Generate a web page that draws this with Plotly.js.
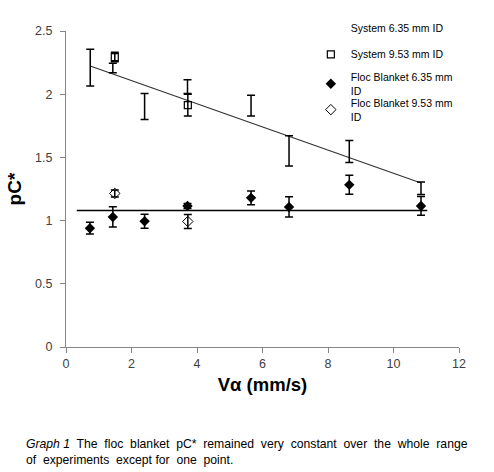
<!DOCTYPE html>
<html>
<head>
<meta charset="utf-8">
<script src="https://cdn.plot.ly/plotly-3.0.1.min.js"></script>
<style>html,body{margin:0;padding:0;background:#fff;}#chart{width:494px;height:472px;}</style>
</head>
<body>
<div id="chart"></div>
<script>
// System 6.35 mm ID (error bars only, no marker)
var sys635X = [0.74, 1.43, 2.40, 3.71, 5.65, 6.81, 8.65, 10.84];
var sys635Y = [2.21, 2.207, 1.903, 2.06, 1.909, 1.551, 1.547, 1.256];
var sys635Err = [0.145, 0.037, 0.103, 0.055, 0.082, 0.12, 0.087, 0.05];

// System 9.53 mm ID
var sys953X = [1.49, 3.72];
var sys953Y = [2.294, 1.913];
var sys953Err = [0.037, 0.086];

// Floc Blanket 6.35 mm ID
var floc635X = [0.73, 1.43, 2.40, 3.71, 5.65, 6.81, 8.65, 10.84];
var floc635Y = [0.94, 1.029, 0.995, 1.116, 1.18, 1.108, 1.283, 1.116];
var floc635Err = [0.046, 0.08, 0.055, 0.02, 0.054, 0.08, 0.075, 0.074];

// Floc Blanket 9.53 mm ID
var floc953X = [1.49, 3.72];
var floc953Y = [1.215, 0.993];
var floc953Err = [0.028, 0.055];

// Horizontal floc blanket reference line
var flocLineX = [0.33, 11.03];
var flocLineY = [1.08, 1.08];

var xTicks = [0, 2, 4, 6, 8, 10, 12];
var yTicks = [0, 0.5, 1, 1.5, 2, 2.5];

// Linear trendline through System 6.35 mm ID data
function linfit(xs, ys) {
  var n = xs.length, mx = 0, my = 0;
  for (var i = 0; i < n; i++) { mx += xs[i]; my += ys[i]; }
  mx /= n; my /= n;
  var sxy = 0, sxx = 0;
  for (var j = 0; j < n; j++) { sxy += (xs[j]-mx)*(ys[j]-my); sxx += (xs[j]-mx)*(xs[j]-mx); }
  var b = sxy / sxx;
  return {a: my - b*mx, b: b};
}
var fit = linfit(sys635X, sys635Y);
var trendX = [Math.min.apply(null, sys635X), Math.max.apply(null, sys635X)];
var trendY = trendX.map(function (x) { return fit.a + fit.b * x; });

function err(arr) {
  return {type: 'data', array: arr, visible: true, color: '#000', thickness: 1.5, width: 4};
}

var FONT = 'Liberation Sans, Arial, sans-serif';

var traces = [
  {x: trendX, y: trendY, mode: 'lines', line: {color: '#333', width: 1.2}, showlegend: false, hoverinfo: 'skip'},
  {x: flocLineX, y: flocLineY, mode: 'lines', line: {color: '#000', width: 1.5}, showlegend: false, hoverinfo: 'skip'},
  {x: sys635X, y: sys635Y, mode: 'markers', name: 'System 6.35 mm ID', legend: 'legend',
   marker: {size: 7, color: 'rgba(0,0,0,0)', line: {width: 0}}, error_y: err(sys635Err)},
  {x: sys953X, y: sys953Y, mode: 'markers', name: 'System 9.53 mm ID', legend: 'legend2',
   marker: {symbol: 'square-open', size: 7, color: '#000', line: {width: 1.2}}, error_y: err(sys953Err)},
  {x: floc635X, y: floc635Y, mode: 'markers', name: 'Floc Blanket 6.35 mm<br>ID', legend: 'legend3',
   marker: {symbol: 'diamond', size: 8, color: '#000'}, error_y: err(floc635Err)},
  {x: floc953X, y: floc953Y, mode: 'markers', name: 'Floc Blanket 9.53 mm<br>ID', legend: 'legend4',
   marker: {symbol: 'diamond-open', size: 8, color: '#000', line: {width: 1}}, error_y: err(floc953Err)}
];

var axisCommon = {
  showgrid: false, zeroline: false, showline: true, linecolor: '#868686', linewidth: 1,
  ticks: 'outside', ticklen: 5, tickcolor: '#868686',
  tickfont: {family: FONT, size: 12.5, color: '#404040'}
};

function leg(y) {
  return {x: 0.623, y: y, xanchor: 'left', yanchor: 'top', bgcolor: 'rgba(0,0,0,0)',
          font: {size: 10.5, color: '#000', family: FONT}, itemwidth: 30};
}

var layout = {
  width: 494, height: 472,
  margin: {l: 66, r: 35, t: 31, b: 125},
  paper_bgcolor: '#fff', plot_bgcolor: '#fff',
  font: {family: FONT},
  xaxis: Object.assign({}, axisCommon, {
    range: [0, 12], tickvals: xTicks, ticktext: xTicks.map(String),
    title: {text: 'Vα (mm/s)', font: {size: 18.5, color: '#000', family: FONT, weight: 'bold'}, standoff: 8}
  }),
  yaxis: Object.assign({}, axisCommon, {
    range: [0, 2.5], tickvals: yTicks, ticktext: yTicks.map(String), ticklabelstandoff: 5,
    title: {text: 'pC*', font: {size: 19, color: '#000', family: FONT, weight: 'bold'}, standoff: 8}
  }),
  showlegend: true,
  legend: leg(1.057),
  legend2: leg(0.972),
  legend3: leg(0.897),
  legend4: leg(0.815),
  annotations: [
    {xref: 'paper', yref: 'paper', x: -0.107, y: -0.277, xanchor: 'left', yanchor: 'top', align: 'left', showarrow: false,
     text: '<i>Graph 1</i>  The  floc  blanket  pC*  remained  very  constant  over  the  whole  range<br>of  experiments  except for  one  point.',
     font: {size: 12.2, color: '#000', family: FONT}}
  ]
};

Plotly.newPlot('chart', traces, layout, {staticPlot: true, displayModeBar: false});
</script>
</body>
</html>
